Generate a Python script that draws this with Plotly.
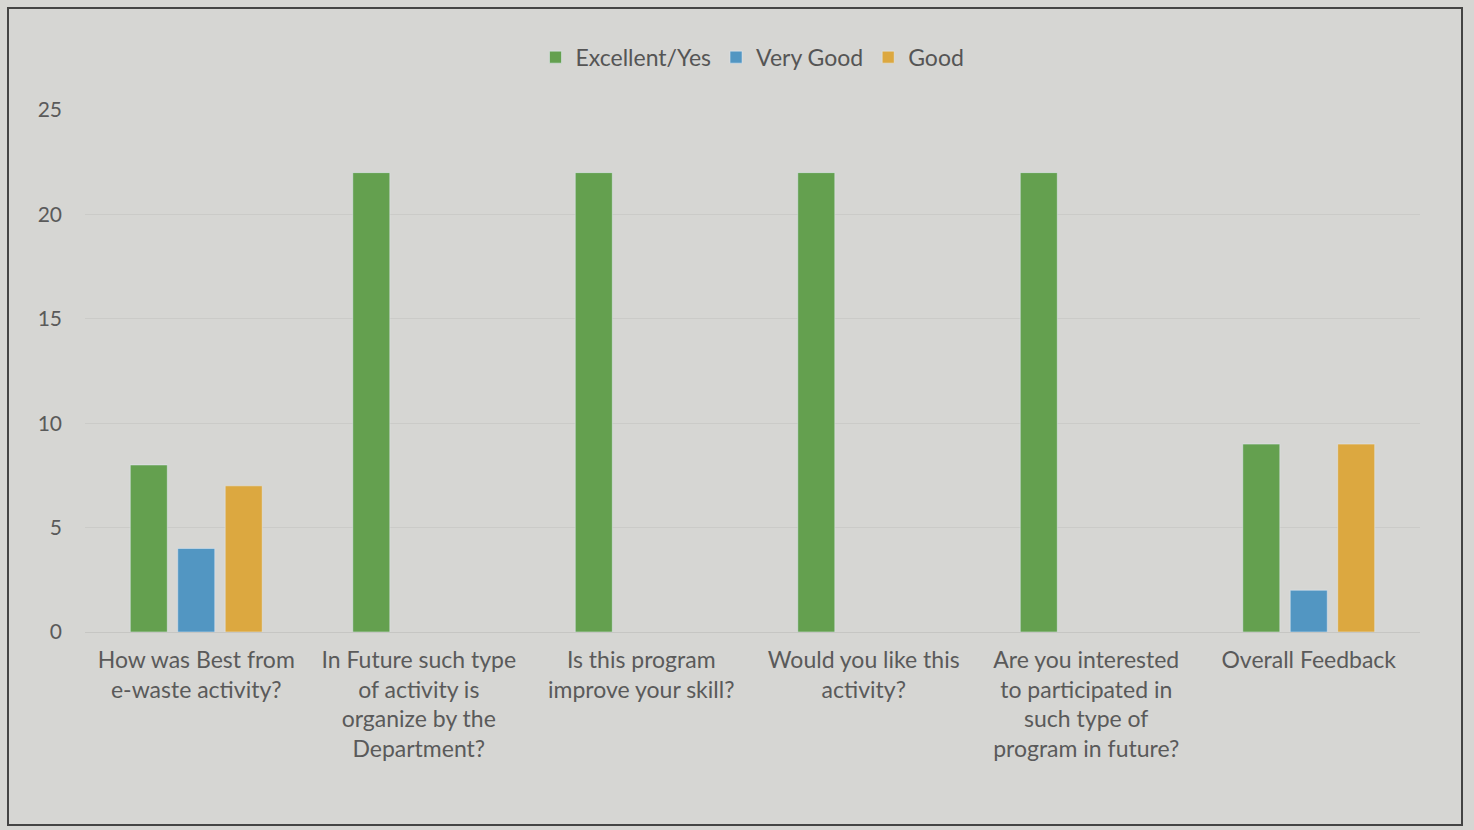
import plotly.graph_objects as go

categories = [
    "How was Best from<br>e-waste activity?",
    "In Future such type<br>of activity is<br>organize by the<br>Department?",
    "Is this program<br>improve your skill?",
    "Would you like this<br>activity?",
    "Are you interested<br>to participated in<br>such type of<br>program in future?",
    "Overall Feedback",
]
excellent_yes = [8, 22, 22, 22, 22, 9]
very_good = [4, None, None, None, None, 2]
good = [7, None, None, None, None, 9]
y_ticks = [0, 5, 10, 15, 20, 25]

BG = "#d6d6d3"
fig = go.Figure()
fig.add_trace(go.Bar(name="Excellent/Yes", x=categories, y=excellent_yes, marker_color="#64a04f"))
fig.add_trace(go.Bar(name="Very Good", x=categories, y=very_good, marker_color="#5296c2"))
fig.add_trace(go.Bar(name="Good", x=categories, y=good, marker_color="#dca840"))

fig.update_layout(
    width=1474, height=830,
    barmode="group", bargap=0.36, bargroupgap=0.22,
    paper_bgcolor=BG, plot_bgcolor=BG,
    margin=dict(l=85, r=54, t=110, b=198),
    font=dict(family="Lato, Open Sans, sans-serif", size=23, color="#5a5a5a"),
    legend=dict(orientation="h", x=0.5, xanchor="center", y=0.957, yanchor="top",
                yref="container", font=dict(size=23, color="#555555"),
                traceorder="normal"),
    xaxis=dict(showgrid=False, showline=True, linecolor="#c6c6c3", linewidth=1,
               ticks="", tickfont=dict(size=23, color="#5a5a5a"), tickangle=0,
               ticklabelstandoff=7),
    yaxis=dict(range=[0, 25], tickvals=y_ticks, showgrid=True, gridcolor="#cbcbc8",
               zeroline=False, ticks="", tickfont=dict(size=21, color="#5a5a5a"),
               ticklabelstandoff=22),
    shapes=[dict(type="rect", xref="paper", yref="paper",
                 x0=-77 / 1335, x1=(1462 - 85) / 1335,
                 y0=-(825 - 632) / 522, y1=1 + 102 / 522,
                 line=dict(color="#444444", width=2), fillcolor="rgba(0,0,0,0)", layer="below")],
)
fig.write_html("out.html", config={"displayModeBar": False},
               post_script="document.body.style.margin='0';document.body.style.background='%s';" % BG)
